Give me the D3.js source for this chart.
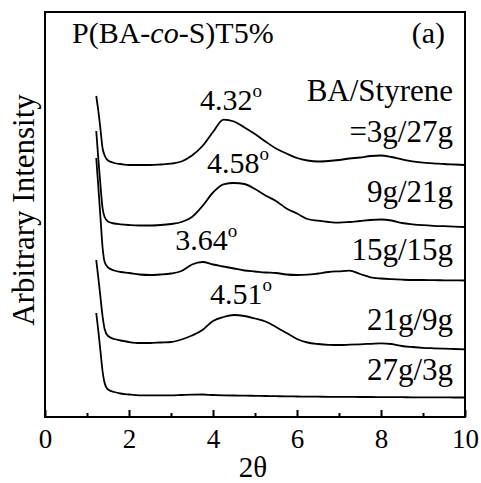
<!DOCTYPE html>
<html>
<head>
<meta charset="utf-8">
<script src="https://cdn.jsdelivr.net/npm/d3@7"></script>
</head>
<body style="margin:0">
<div id="chart"></div>
<script>
// 2theta grid shared by all patterns
var twoTheta = [1.22, 1.27, 1.32, 1.37, 1.42, 1.5, 1.65, 1.8,
  2.0, 2.25, 2.5, 2.75, 3.0, 3.25, 3.5, 3.75,
  4.0, 4.25, 4.5, 4.75, 5.0, 5.25, 5.5, 5.75,
  6.0, 6.25, 6.5, 6.75, 7.0, 7.25, 7.5, 7.75,
  8.0, 8.25, 8.5, 8.75, 9.0, 9.25, 9.5, 9.75, 10.0];

// arbitrary intensity (stacked, offset already included)
var s3_27 = [321, 306, 288, 269, 261.5, 256.5, 254, 253,
  252, 252, 252, 252.5, 253.3, 255.5, 261.5, 271,
  285, 297.4, 295.5, 289.5, 283, 275.5, 268.5, 263.5,
  259, 256.5, 255.5, 256, 257, 258.5, 259.5, 261,
  261.5, 260, 257.7, 255.7, 254.3, 253.7, 253, 252.5, 252];
var s9_21 = [286, 258, 232, 209, 200, 195.5, 193.5, 192.7,
  192, 191.5, 191.5, 192, 193, 195, 200, 211,
  224.5, 232.7, 234, 233, 228, 221.5, 216, 208.5,
  203.5, 198, 196.3, 195, 194.3, 195, 196, 197,
  197.5, 196.5, 194, 192.7, 191.8, 191.2, 190.8, 190.4, 190];
var s15_15 = [259, 230, 200, 170, 155, 149.5, 146.5, 145,
  144, 142.5, 142, 142.5, 143.5, 146, 152.5, 155,
  152.5, 150.5, 148.5, 146.5, 145.5, 144.5, 144, 142.5,
  142, 142.3, 143.5, 145, 145.7, 146.3, 143, 139.7,
  138.5, 137.8, 137.3, 137, 137, 136.8, 136.7, 136.6, 136.5];
var s21_9 = [157, 139, 120, 101, 88, 81, 78, 76.5,
  75, 74, 74, 74.5, 75, 77.5, 81.5, 87,
  96, 100, 102, 101, 98.5, 95.5, 90, 84,
  78, 74.5, 73, 72.2, 72, 72.3, 72.7, 73.2,
  73.7, 73, 71, 70, 69.2, 68.7, 68.3, 68, 67.7];
var s27_3 = [104, 86, 66, 46, 34, 27.5, 25, 23.5,
  22.5, 21.7, 21.7, 21.7, 21.7, 22, 22.3, 22.5,
  22, 21.7, 21.5, 21.4, 21.2, 21, 20.8, 20.6,
  20.5, 20.4, 20.3, 20.2, 20.2, 20.1, 20, 20,
  19.9, 19.8, 19.8, 19.7, 19.7, 19.6, 19.6, 19.5, 19.5];

var series = [s3_27, s9_21, s15_15, s21_9, s27_3];
var sampleLabels = ["=3g/27g", "9g/21g", "15g/15g", "21g/9g", "27g/3g"];
var sampleLabelY = [275, 215, 157, 87, 37];
var peakLabels = ["4.32", "4.58", "3.64", "4.51"];
var peakLabelX = [3.69, 3.86, 3.1, 3.93];
var peakLabelY = [307, 244, 167, 113];
var majorTicks = [0, 2, 4, 6, 8, 10];
var minorTicks = [1, 3, 5, 7, 9];

var serif = "'Liberation Serif'";
var margin = {top: 12, right: 16, bottom: 66, left: 45};
var width = 481 - margin.left - margin.right;
var height = 483 - margin.top - margin.bottom;

var svg = d3.select("#chart").append("svg")
    .attr("width", 481)
    .attr("height", 483);
var g = svg.append("g")
    .attr("transform", "translate(" + margin.left + "," + margin.top + ")");

var x = d3.scaleLinear().domain([0, 10]).range([0, width]);
var y = d3.scaleLinear().domain([0, height]).range([height, 0]);

var line = d3.line()
    .x(function(d, i) { return x(twoTheta[i]); })
    .y(function(d) { return y(d); })
    .curve(d3.curveMonotoneX);

g.selectAll("path.xrd")
    .data(series)
    .enter().append("path")
    .attr("class", "xrd")
    .attr("d", line)
    .attr("fill", "none")
    .attr("stroke", "#000")
    .attr("stroke-width", 1.8);

// axes with inward ticks
var xAxis = g.append("g")
    .attr("transform", "translate(0," + height + ")")
    .call(d3.axisBottom(x).tickValues(majorTicks).tickSize(-7).tickFormat(d3.format("d")));
xAxis.select(".domain").remove();
xAxis.selectAll("line").attr("stroke-width", 2);
xAxis.selectAll("text")
    .attr("y", 31).attr("dy", 0)
    .attr("font-size", 27)
    .style("font-family", serif);

var xMinor = g.append("g")
    .attr("transform", "translate(0," + height + ")")
    .call(d3.axisBottom(x).tickValues(minorTicks).tickSize(-4).tickFormat(""));
xMinor.select(".domain").remove();
xMinor.selectAll("line").attr("stroke-width", 2);

g.append("rect")
    .attr("width", width)
    .attr("height", height)
    .attr("fill", "none")
    .attr("stroke", "#000")
    .attr("stroke-width", 2);

svg.append("text")
    .attr("x", 253)
    .attr("y", 477)
    .attr("text-anchor", "middle")
    .attr("font-size", 29)
    .style("font-family", serif)
    .text("2θ");

svg.append("text")
    .attr("transform", "translate(34,210) rotate(-90)")
    .attr("text-anchor", "middle")
    .attr("font-size", 31)
    .style("font-family", serif)
    .text("Arbitrary Intensity");

// title and panel tag
var title = g.append("text")
    .attr("x", 27)
    .attr("y", 31)
    .attr("font-size", 30)
    .style("font-family", serif);
title.append("tspan").text("P(BA-");
title.append("tspan").style("font-style", "italic").text("co");
title.append("tspan").text("-S)T5%");

g.append("text")
    .attr("x", 400)
    .attr("y", 31)
    .attr("text-anchor", "end")
    .attr("font-size", 30)
    .style("font-family", serif)
    .text("(a)");

g.append("text")
    .attr("x", 408)
    .attr("y", 89)
    .attr("text-anchor", "end")
    .attr("font-size", 31)
    .style("font-family", serif)
    .text("BA/Styrene");

g.selectAll("text.sample")
    .data(sampleLabels)
    .enter().append("text")
    .attr("class", "sample")
    .attr("x", 408)
    .attr("y", function(d, i) { return y(sampleLabelY[i]); })
    .attr("text-anchor", "end")
    .attr("font-size", 31)
    .style("font-family", serif)
    .text(function(d) { return d; });

var peaks = g.selectAll("text.peak")
    .data(peakLabels)
    .enter().append("text")
    .attr("class", "peak")
    .attr("x", function(d, i) { return x(peakLabelX[i]); })
    .attr("y", function(d, i) { return y(peakLabelY[i]); })
    .attr("font-size", 30)
    .style("font-family", serif);
peaks.append("tspan").text(function(d) { return d; });
peaks.append("tspan")
    .attr("dy", -13)
    .attr("font-size", 19)
    .text("o");
</script>
</body>
</html>
